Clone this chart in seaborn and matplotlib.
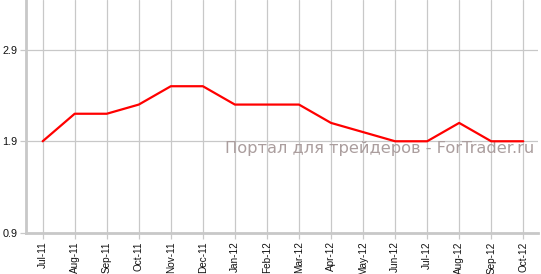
import matplotlib
matplotlib.use("Agg")
import matplotlib.pyplot as plt
import seaborn as sns
import pandas as pd

months = ["Jul-11", "Aug-11", "Sep-11", "Oct-11", "Nov-11", "Dec-11", "Jan-12", "Feb-12",
          "Mar-12", "Apr-12", "May-12", "Jun-12", "Jul-12", "Aug-12", "Sep-12", "Oct-12"]
values = [1.9, 2.2, 2.2, 2.3, 2.5, 2.5, 2.3, 2.3, 2.3, 2.1, 2.0, 1.9, 1.9, 2.1, 1.9, 1.9]
yticks = [0.9, 1.9, 2.9]
watermark = "Портал для трейдеров - ForTrader.ru"

df = pd.DataFrame({"month": months, "value": values, "pos": range(len(months))})

sns.set_theme(style="white")
plt.rcParams['font.family'] = ['Liberation Sans', 'DejaVu Sans']

fig = plt.figure(figsize=(5.41, 2.74), dpi=100)
ax = fig.add_axes([26/541, 1 - 233/274, (538-26)/541, 233/274])

sns.lineplot(data=df, x="pos", y="value", color="#ff0000", linewidth=1.6, ax=ax)

ax.set_xlim(-0.52, len(months) - 1 + 0.46)
ax.set_ylim(0.9, 3.44)
ax.set_xticks(range(len(months)))
ax.set_xticklabels(months, rotation=90, fontsize=7.2, color="#111111")
ax.set_yticks(yticks)
ax.set_yticklabels([f"{v:.1f}" for v in yticks], fontsize=7.8, color="#111111")
ax.set_xlabel("")
ax.set_ylabel("")

ax.grid(True, color="#c8c8c8", linewidth=0.9)
ax.set_axisbelow(True)
for s in ["top", "right"]:
    ax.spines[s].set_visible(False)
for s in ["left", "bottom"]:
    ax.spines[s].set_color("#c8c8c8")
    ax.spines[s].set_linewidth(2)
ax.tick_params(axis="both", which="both", length=4, width=0.9, color="#c8c8c8", pad=2,
               bottom=True, left=True)

ax.text(0.992, 0.362, watermark, transform=ax.transAxes, ha="right", va="center",
        fontsize=11.7, color="#ab9e9e", zorder=1, family="DejaVu Sans")

fig.savefig("out.png", dpi=100)
